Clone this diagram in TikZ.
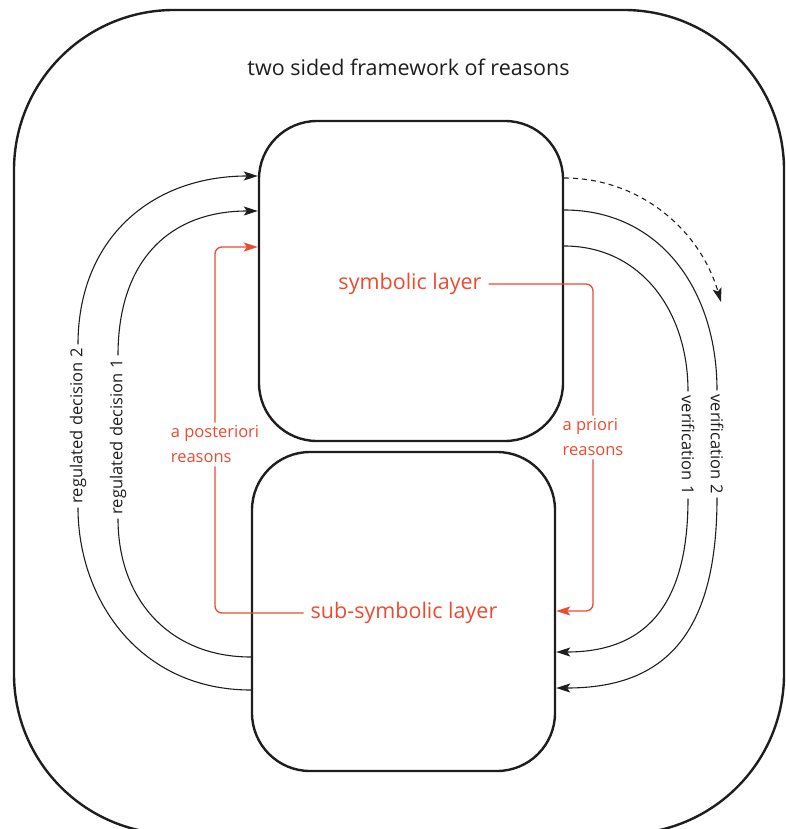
\documentclass[tikz,border=0pt]{standalone}
\usepackage{fontspec}
\setmainfont{Open Sans}
\usetikzlibrary{arrows.meta}
\definecolor{ink}{RGB}{30,30,30}
\definecolor{reasonred}{RGB}{237,74,48}

\begin{document}
\begin{tikzpicture}[x=1pt,y=-1pt,
  layerbox/.style={draw=ink, line width=2.4pt, rounded corners=58pt},
  layertext/.style={text=reasonred, font=\fontsize{21.5}{26}\selectfont, inner xsep=7pt},
  sidelabel/.style={text=ink, font=\fontsize{16.5}{20}\selectfont, inner sep=4pt},
  reasonlabel/.style={text=reasonred, align=left, font=\fontsize{16.5}{25}\selectfont, inner sep=3pt},
  tip/.style={-{Stealth[length=14pt,width=9pt,inset=3pt]}},
  thinline/.style={draw=ink, line width=1.1pt},
  reasonline/.style={draw=reasonred, line width=1.3pt, rounded corners=7pt}
]
\useasboundingbox (0,0) rectangle (786,829);
\clip (0,0) rectangle (786,829);

% outer frame
\draw[ink, line width=2.4pt, rounded corners=160pt] (14,10) rectangle (784,834);
\node[text=ink, font=\fontsize{21.5}{26}\selectfont] (title) at (408.5,67) {two sided framework of reasons};

% the two layers
\node[layerbox, minimum width=304pt, minimum height=320pt] (sym) at (411,281) {};
\node[layerbox, minimum width=303pt, minimum height=319pt] (sub) at (403.5,611.5) {};
\node[layertext] (symtxt) at (410,284) {symbolic layer};
\node[layertext] (subtxt) at (404,613) {sub-symbolic layer};

% side labels
\node[sidelabel, rotate=90] (reg2) at (78,426) {regulated decision 2};
\node[sidelabel, rotate=90] (reg1) at (118,437) {regulated decision 1};
\node[sidelabel, rotate=-90] (ver2) at (717,444) {verification 2};
\node[sidelabel, rotate=-90] (ver1) at (688,445) {verification 1};
\node[reasonlabel] (apost) at (215,444.5) {a posteriori\\reasons};
\node[reasonlabel] (apri) at (593,437.5) {a priori\\reasons};

% regulated decisions (left)
\draw[thinline] (sub.west |- 0,690) .. controls (140,690) and (78,600) .. (reg2.west);
\draw[thinline, tip] (reg2.east) .. controls (78,240) and (150,176) .. (sym.west |- 0,176);
\draw[thinline] (sub.west |- 0,657) .. controls (170,657) and (118,600) .. (reg1.west);
\draw[thinline, tip] (reg1.east) .. controls (118,260) and (170,211) .. (sym.west |- 0,211);

% verifications (right)
\draw[thinline] (sym.east |- 0,210) .. controls (660,210) and (717,290) .. (ver2.west);
\draw[thinline, tip] (ver2.east) .. controls (717,640) and (660,688) .. (sub.east |- 0,688);
\draw[thinline] (sym.east |- 0,246) .. controls (640,246) and (688,310) .. (ver1.west);
\draw[thinline, tip] (ver1.east) .. controls (688,600) and (650,652) .. (sub.east |- 0,652);

% dashed continuation
\coordinate (dashend) at (721,302);
\draw[thinline, tip, dash pattern=on 5pt off 4pt] (sym.east |- 0,178) .. controls (640,178) and (700,230) .. (dashend);

% reasons
\draw[reasonline] (symtxt.east) -| (apri.north);
\draw[reasonline, tip] (apri.south) |- (sub.east |- 0,611);
\draw[reasonline] (subtxt.west) -| (apost.south);
\draw[reasonline, tip] (apost.north) |- (sym.west |- 0,247);
\end{tikzpicture}
\end{document}
